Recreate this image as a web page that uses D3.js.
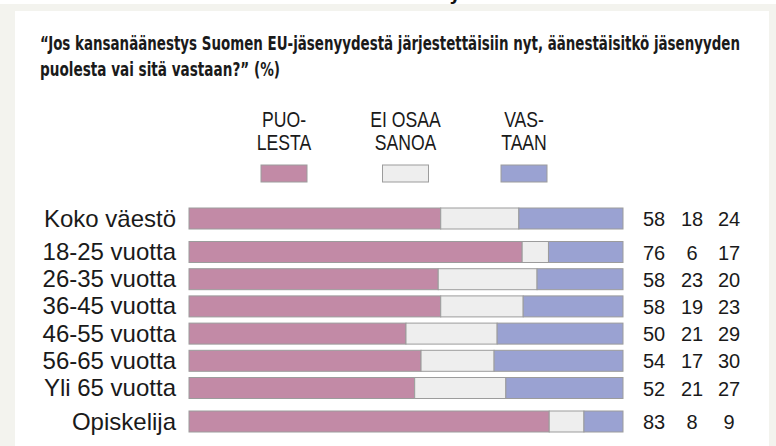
<!DOCTYPE html>
<html>
<head>
<meta charset="utf-8">
<script src="https://cdn.jsdelivr.net/npm/d3@7"></script>
<style>
  html, body { margin: 0; padding: 0; background: #f3f3ee; }
  svg { display: block; }
</style>
</head>
<body>
<div id="chart"></div>
<script>
const categories = ["Koko väestö", "18-25 vuotta", "26-35 vuotta", "36-45 vuotta", "46-55 vuotta", "56-65 vuotta", "Yli 65 vuotta", "Opiskelija"];
const groups = [0, 1, 1, 1, 1, 1, 1, 2];
const puolesta = [58, 76, 58, 58, 50, 54, 52, 83];
const eiOsaa = [18, 6, 23, 19, 21, 17, 21, 8];
const vastaan = [24, 17, 20, 23, 29, 30, 27, 9];
const seriesNames = [["PUO-", "LESTA"], ["EI OSAA", "SANOA"], ["VAS-", "TAAN"]];
const colors = ["#c28aa6", "#eeeeee", "#9aa2d2"];
const titleLines = [
    "“Jos kansanäänestys Suomen EU-jäsenyydestä järjestettäisiin nyt, äänestäisitkö jäsenyyden",
    "puolesta vai sitä vastaan?” (%)"
];

const width = 776, height = 446;

const svg = d3.select("#chart")
    .append("svg")
    .attr("width", width)
    .attr("height", height);

// background bits
svg.append("rect").attr("x", 0).attr("y", 0).attr("width", width).attr("height", height).attr("fill", "#f3f3ee");
svg.append("rect").attr("x", 0).attr("y", 0).attr("width", width).attr("height", 4).attr("fill", "#ffffff");
svg.append("rect").attr("x", 15).attr("y", 11).attr("width", 754).attr("height", height - 11).attr("fill", "#ffffff");

// cut-off glyph of the heading above
svg.append("text")
    .attr("x", 449)
    .attr("y", 0)
    .style("font-family", "DejaVu Sans")
    .style("font-weight", "bold")
    .style("font-size", "18px")
    .attr("fill", "#111")
    .text("y");

// title
const titleLens = [700, 240];
svg.selectAll(".title")
    .data(titleLines)
    .enter()
    .append("text")
    .attr("class", "title")
    .attr("x", 40)
    .attr("y", (d, i) => 50 + i * 26)
    .attr("textLength", (d, i) => titleLens[i])
    .attr("lengthAdjust", "spacingAndGlyphs")
    .style("font-family", "'DejaVu Sans Condensed', 'DejaVu Sans'")
    .style("font-weight", "bold")
    .style("font-size", "20px")
    .attr("fill", "#1a1a1a")
    .text(d => d);

// rows
const rows = categories.map((c, i) => {
    const total = puolesta[i] + eiOsaa[i] + vastaan[i];
    return {
        label: c,
        group: groups[i],
        values: [puolesta[i], eiOsaa[i], vastaan[i]],
        shares: [puolesta[i] / total, eiOsaa[i] / total, vastaan[i] / total]
    };
});

const x = d3.scaleLinear().domain([0, 1]).range([189, 623]);
const y = d3.scaleLinear().domain([0, 7]).range([208, 398.4]);
const groupGap = 6.3;
const barH = 21;
const rowTop = (d, i) => y(i) + groupGap * d.group;

const rowG = svg.selectAll(".row")
    .data(rows)
    .enter()
    .append("g")
    .attr("class", "row")
    .attr("transform", (d, i) => `translate(0,${rowTop(d, i)})`);

rowG.each(function (d) {
    const stack = [];
    let acc = 0;
    d.shares.forEach((s, k) => {
        stack.push({ k: k, x0: acc, x1: acc + s });
        acc += s;
    });
    d3.select(this).selectAll("rect")
        .data(stack)
        .enter()
        .append("rect")
        .attr("x", s => x(s.x0))
        .attr("y", 0)
        .attr("width", s => x(s.x1) - x(s.x0))
        .attr("height", barH)
        .attr("fill", s => colors[s.k])
        .attr("stroke", "#9c9c9c")
        .attr("stroke-width", 1);
});

rowG.append("text")
    .attr("x", 176)
    .attr("y", barH / 2 + 8)
    .attr("text-anchor", "end")
    .style("font-family", "'Liberation Sans', Arial, sans-serif")
    .style("font-size", "24px")
    .attr("fill", "#1a1a1a")
    .text(d => d.label);

const numX = [654, 692, 729];
rowG.selectAll(".num")
    .data(d => d.values)
    .enter()
    .append("text")
    .attr("class", "num")
    .attr("x", (v, k) => numX[k])
    .attr("y", barH / 2 + 7.5)
    .attr("text-anchor", "middle")
    .style("font-family", "'Liberation Sans', Arial, sans-serif")
    .style("font-size", "20px")
    .attr("fill", "#1a1a1a")
    .text(v => v);

// legend
const legendX = [284, 405.5, 524];
const legend = svg.selectAll(".legend")
    .data(seriesNames)
    .enter()
    .append("g")
    .attr("class", "legend")
    .attr("transform", (d, i) => `translate(${legendX[i]},0)`);

legend.append("rect")
    .attr("x", -23)
    .attr("y", 165)
    .attr("width", 46)
    .attr("height", 17)
    .attr("fill", (d, i) => colors[i])
    .attr("stroke", "#9c9c9c")
    .attr("stroke-width", 1);

legend.each(function (d) {
    const g = d3.select(this).append("g").attr("transform", "scale(0.8,1)");
    g.selectAll("text")
        .data(d)
        .enter()
        .append("text")
        .attr("x", 0)
        .attr("y", (t, j) => 127 + j * 23)
        .attr("text-anchor", "middle")
        .style("font-family", "'Liberation Sans', Arial, sans-serif")
        .style("font-size", "22px")
        .attr("fill", "#1a1a1a")
        .text(t => t);
});
</script>
</body>
</html>
